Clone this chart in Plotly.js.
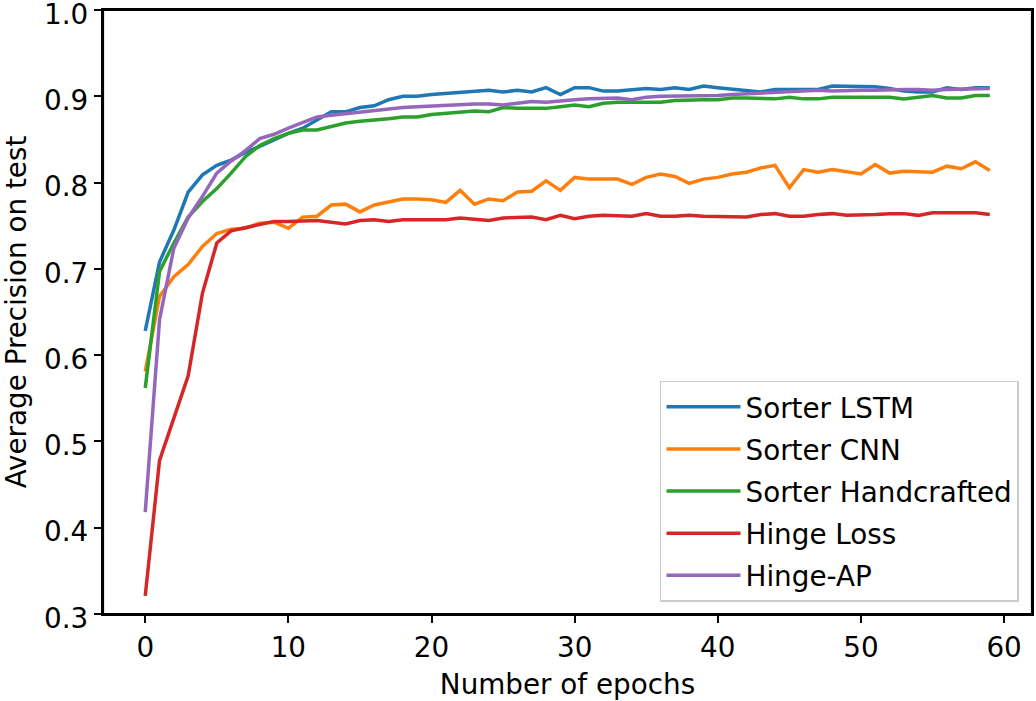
<!DOCTYPE html>
<html>
<head>
<meta charset="utf-8">
<script src="https://cdn.plot.ly/plotly-3.0.1.min.js"></script>
<style>html,body{margin:0;padding:0;background:#fff;}#chart{width:1036px;height:701px;}</style>
</head>
<body>
<div id="chart"></div>
<script>
const epochs = Array.from({length: 60}, (_, i) => i);

const seriesNames = ["Sorter LSTM", "Sorter CNN", "Sorter Handcrafted", "Hinge Loss", "Hinge-AP"];
const seriesColors = ["#1f77b4", "#ff7f0e", "#2ca02c", "#d62728", "#9467bd"];

const sorterLSTM = [0.628,0.708,0.745,0.789,0.809,0.820,0.826,0.835,0.842,0.850,
  0.857,0.863,0.873,0.882,0.882,0.887,0.889,0.896,0.900,0.900,
  0.902,0.903,0.904,0.906,0.907,0.905,0.907,0.905,0.910,0.902,
  0.910,0.910,0.906,0.906,0.908,0.909,0.908,0.910,0.908,0.912,
  0.910,0.908,0.907,0.905,0.908,0.908,0.908,0.908,0.912,0.912,
  0.911,0.911,0.909,0.906,0.905,0.905,0.910,0.908,0.910,0.910];

const sorterCNN = [0.581,0.668,0.691,0.705,0.726,0.741,0.746,0.747,0.753,0.754,
  0.747,0.760,0.761,0.774,0.775,0.766,0.774,0.777,0.781,0.781,
  0.780,0.777,0.791,0.775,0.781,0.779,0.789,0.790,0.802,0.791,
  0.806,0.804,0.804,0.804,0.798,0.806,0.810,0.807,0.799,0.804,
  0.806,0.810,0.812,0.817,0.820,0.794,0.815,0.812,0.815,0.813,
  0.810,0.821,0.811,0.813,0.812,0.812,0.819,0.816,0.824,0.814];

const sorterHandcrafted = [0.562,0.697,0.730,0.760,0.778,0.793,0.811,0.830,0.843,0.851,
  0.857,0.861,0.861,0.865,0.869,0.871,0.872,0.874,0.876,0.876,
  0.879,0.880,0.882,0.883,0.882,0.887,0.886,0.886,0.886,0.888,
  0.890,0.888,0.892,0.893,0.893,0.893,0.893,0.895,0.896,0.896,
  0.896,0.898,0.898,0.898,0.897,0.899,0.897,0.897,0.899,0.899,
  0.899,0.900,0.899,0.897,0.899,0.901,0.898,0.898,0.901,0.901];

const hingeLoss = [0.321,0.478,0.527,0.576,0.672,0.730,0.744,0.748,0.751,0.755,
  0.755,0.755,0.756,0.754,0.752,0.756,0.757,0.755,0.757,0.757,
  0.757,0.757,0.759,0.757,0.756,0.759,0.759,0.760,0.757,0.762,
  0.758,0.761,0.762,0.761,0.761,0.764,0.761,0.761,0.762,0.761,
  0.761,0.761,0.760,0.763,0.764,0.761,0.761,0.763,0.764,0.762,
  0.762,0.763,0.764,0.764,0.762,0.765,0.765,0.765,0.765,0.763];

const hingeAP = [0.418,0.641,0.724,0.759,0.784,0.811,0.825,0.837,0.851,0.856,
  0.863,0.869,0.876,0.878,0.880,0.882,0.884,0.886,0.887,0.888,
  0.889,0.890,0.891,0.891,0.891,0.890,0.892,0.894,0.893,0.895,
  0.896,0.897,0.898,0.898,0.896,0.899,0.900,0.900,0.900,0.900,
  0.901,0.902,0.903,0.904,0.905,0.906,0.906,0.907,0.906,0.907,
  0.907,0.907,0.908,0.908,0.908,0.907,0.908,0.908,0.908,0.909];

const yTicks = [0.3,0.4,0.5,0.6,0.7,0.8,0.9,1.0];
const xTicks = [0,10,20,30,40,50,60];

const allSeries = [sorterLSTM, sorterCNN, sorterHandcrafted, hingeLoss, hingeAP];

const FONT = "DejaVu Sans, sans-serif";
const FS = 27.8;

const traces = allSeries.map((ys, i) => ({
  type: "scatter",
  mode: "lines",
  x: epochs,
  y: ys,
  name: seriesNames[i],
  legendgroup: "g" + i,
  line: {color: seriesColors[i], width: 3.5}
}));

const layout = {
  width: 1036,
  height: 701,
  paper_bgcolor: "#ffffff",
  plot_bgcolor: "#ffffff",
  margin: {l: 103, r: 4, t: 10, b: 87},
  font: {family: FONT, size: FS, color: "#000"},
  showlegend: true,
  legend: {
    x: 0.986, y: 0.0204, xanchor: "right", yanchor: "bottom",
    bgcolor: "rgba(255,255,255,0.8)",
    bordercolor: "#cccccc", borderwidth: 1.5,
    font: {family: FONT, size: FS, color: "#000"},
    traceorder: "grouped",
    tracegroupgap: 3,
    itemwidth: 74
  },
  shapes: [{
    type: "rect", xref: "paper", yref: "paper", x0: 0, x1: 1, y0: 0, y1: 1,
    line: {color: "#000", width: 2.2}, fillcolor: "rgba(0,0,0,0)", layer: "above"
  }],
  xaxis: {
    range: [-2.95, 61.95],
    tickvals: xTicks,
    ticktext: xTicks.map(String),
    ticks: "outside", ticklen: 7, tickwidth: 2, tickcolor: "#000",
    showline: true, linecolor: "#000", linewidth: 2.2, mirror: true,
    showgrid: false, zeroline: false,
    ticklabeloverflow: "allow",
    tickfont: {family: FONT, size: FS, color: "#000"},
    title: {text: "Number of epochs", font: {family: FONT, size: FS, color: "#000"}, standoff: 15}
  },
  yaxis: {
    range: [0.3, 1.0],
    tickvals: yTicks,
    ticktext: yTicks.map(v => v.toFixed(1)),
    ticks: "outside", ticklen: 7, tickwidth: 2, tickcolor: "#000",
    showline: true, linecolor: "#000", linewidth: 2.2, mirror: true,
    showgrid: false, zeroline: false,
    ticklabeloverflow: "allow",
    ticklabelshift: 4,
    tickfont: {family: FONT, size: FS, color: "#000"},
    title: {text: "Average Precision on test", font: {family: FONT, size: FS, color: "#000"}, standoff: 12}
  }
};

Plotly.newPlot("chart", traces, layout, {staticPlot: true, displayModeBar: false});
</script>
</body>
</html>
